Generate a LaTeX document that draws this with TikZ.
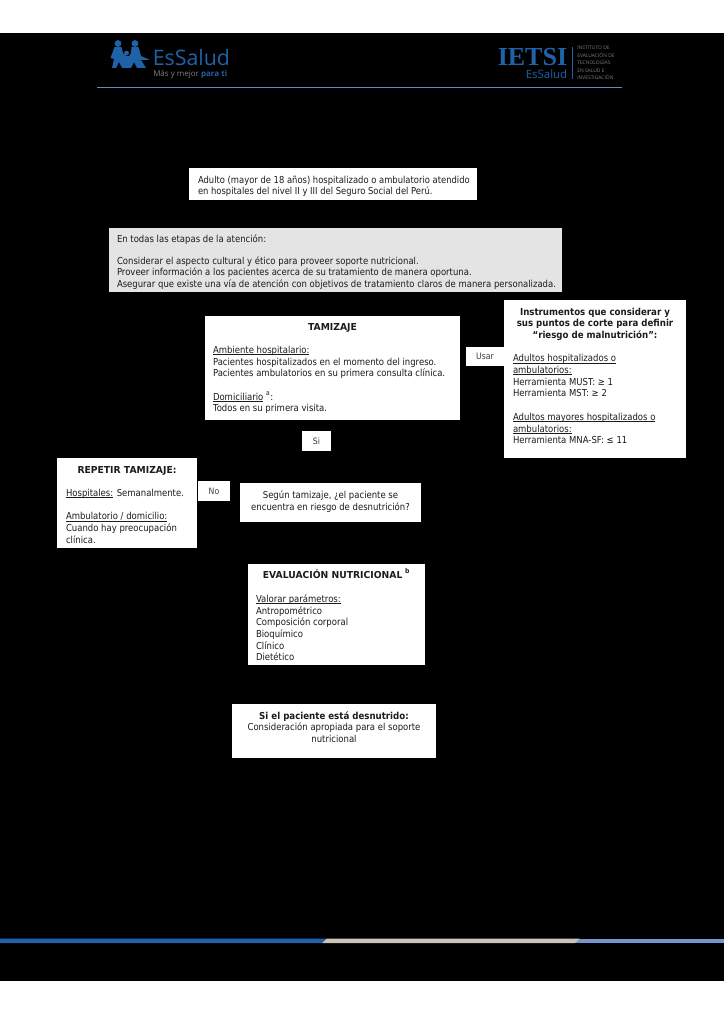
\documentclass[tikz,border=0pt]{standalone}
\usepackage{fontspec}
\setmainfont[FakeStretch=0.885,BoldFeatures={FakeStretch=0.9}]{DejaVu Sans}
\newfontfamily\capsfont[FakeStretch=0.96]{DejaVu Sans}
\newfontfamily\tightfont[FakeStretch=0.875]{DejaVu Sans}
\newfontfamily\logofont{Open Sans}
\newfontfamily\ietsifont{Liberation Serif}
\newlength{\upx}\setlength{\upx}{0.75pt}
\newlength{\ulwidth}
\definecolor{inkc}{HTML}{1C1C1C}
\definecolor{brandblue}{HTML}{1F62A8}
\definecolor{linec}{HTML}{5F8CC4}
\definecolor{beigec}{HTML}{C9C4BA}
\definecolor{lightb}{HTML}{7396CC}
\definecolor{grayfill}{HTML}{E4E4E4}
\setlength{\parindent}{0pt}
\newcommand{\bodyfont}{\fontsize{7.2pt}{8.72pt}\selectfont}
% name, x1, y1, x2, y2, left pad, first baseline offset, fill, content
\newcommand{\flowbox}[9]{%
  \pgfmathsetmacro{\bxw}{#4-#2}\pgfmathsetmacro{\bxh}{#5-#3}%
  \pgfmathsetmacro{\bxt}{\bxw-2*#6}%
  \node[flowstyle, fill=#8, anchor=north west] (#1) at (#2,-#3) {%
    \parbox[c][\bxh\upx][t]{\bxw\upx}{\hspace*{#6\upx}\parbox[t]{\bxt\upx}{\bodyfont\raggedright\rule{0pt}{#7\upx}#9}}};}
\newcommand{\ul}[1]{\settowidth{\ulwidth}{#1}\leavevmode\rlap{\rule[-0.95pt]{\ulwidth}{0.35pt}}#1}
\newcommand{\capsb}[1]{{\capsfont\bfseries #1}}
\newcommand{\ctr}[1]{\makebox[\linewidth][c]{#1}}
\newcommand{\tagbox}[6]{%
  \pgfmathsetmacro{\bxw}{#4-#2}\pgfmathsetmacro{\bxh}{#5-#3}%
  \node[flowstyle, fill=white, text=inkc!85, anchor=north west, minimum width=\bxw\upx, minimum height=\bxh\upx, font=\fontsize{6.6pt}{8pt}\selectfont] (#1) at (#2,-#3) {#6};}
\tikzset{flowstyle/.style={inner sep=0pt, outer sep=0pt, text=inkc, draw=none}}
\begin{document}
\begin{tikzpicture}[x=0.75pt,y=0.75pt]
\useasboundingbox (0,0) rectangle (724,-1024);
\fill[white] (0,0) rectangle (724,-1024);
\fill[black] (0,-33) rectangle (724,-981);
% header logos
\begin{scope}[brandblue]
 \fill (118,-43.5) circle (3.4);
 \fill (135,-43.5) circle (3.4);
 \fill (126.5,-53) circle (2.4);
 \fill (114.5,-47) -- (121.5,-47) -- (123,-53) -- (126,-56) -- (129,-56) -- (131,-53) -- (131.5,-47) -- (138.5,-47) -- (141,-56) -- (150,-60) -- (141,-60) -- (146,-68) -- (137,-68) -- (134,-62) -- (131,-68) -- (122,-68) -- (119,-62) -- (116,-68) -- (112,-68) -- (114,-59) -- (110.5,-58) -- cycle;
\end{scope}
\node[inner sep=0pt, anchor=base west, text=brandblue, font=\logofont\fontsize{16pt}{16pt}\selectfont] (essalud) at (152.5,-66) {EsSalud};
\node[inner sep=0pt, anchor=base west, font=\logofont\fontsize{6pt}{6pt}\selectfont] (lema) at (153,-76) {\textcolor{gray}{Más y mejor} \textcolor{brandblue}{\bfseries para ti}};
\node[inner sep=0pt, anchor=base west, text=brandblue, font=\ietsifont\bfseries\fontsize{19.5pt}{19.5pt}\selectfont] (ietsi) at (497.5,-66) {IETSI};
\node[inner sep=0pt, anchor=base east, text=brandblue, font=\logofont\fontsize{8.6pt}{8.6pt}\selectfont] (essalud2) at (567.5,-79) {EsSalud};
\node[inner sep=0pt, anchor=north west, align=left, text=gray, font=\logofont\fontsize{3.7pt}{5.6pt}\selectfont] (inst) at (577,-46) {INSTITUTO DE\\EVALUACIÓN DE\\TECNOLOGÍAS\\EN SALUD E\\INVESTIGACIÓN};
\draw[brandblue, line width=0.6pt] (572.5,-47) -- (572.5,-79);
\draw[linec, line width=1pt] (97,-87.5) -- (622,-87.5);
% footer band
\fill[lightb] (500,-938.5) rectangle (724,-943);
\fill[brandblue] (0,-938.5) -- (327,-938.5) -- (322,-943) -- (0,-943) -- cycle;
\fill[beigec] (327,-938.5) -- (580,-938.5) -- (575,-943) -- (322,-943) -- cycle;
% boxes
\flowbox{adulto}{189}{168}{477}{200}{9}{15}{white}{{\tightfont\mbox{Adulto (mayor de 18 años) hospitalizado o ambulatorio atendido}\\en hospitales del nivel II y III del Seguro Social del Perú.}}
\flowbox{etapas}{109}{228}{562}{292}{8}{14}{grayfill}{En todas las etapas de la atención:\\[10.5\upx]Considerar el aspecto cultural y ético para proveer soporte nutricional.\\Proveer información a los pacientes acerca de su tratamiento de manera oportuna.\\\mbox{Asegurar que existe una vía de atención con objetivos de tratamiento claros de manera personalizada.}}
\flowbox{tamizaje}{205}{316}{460}{420}{8}{14}{white}{\ctr{\capsb{TAMIZAJE}}\\[12\upx]\ul{Ambiente hospitalario:}\\Pacientes hospitalizados en el momento del ingreso.\\Pacientes ambulatorios en su primera consulta clínica.\\[11.5\upx]\ul{Domiciliario} \textsuperscript{a}:\\Todos en su primera visita.}
\flowbox{instrumentos}{504}{300}{686}{458}{9}{15}{white}{\ctr{\textbf{Instrumentos que considerar y}}\\\ctr{\textbf{sus puntos de corte para definir}}\\\ctr{\textbf{“riesgo de malnutrición”:}}\\[12\upx]\ul{Adultos hospitalizados o}\\\ul{ambulatorios:}\\Herramienta MUST: ≥ 1\\Herramienta MST: ≥ 2\\[12\upx]\ul{Adultos mayores hospitalizados o}\\\ul{ambulatorios:}\\Herramienta MNA-SF: ≤ 11}
\flowbox{repetir}{57}{458}{197}{548}{9}{15}{white}{\ctr{\capsb{REPETIR TAMIZAJE:}}\\[12\upx]\ul{Hospitales:} Semanalmente.\\[11.5\upx]\ul{Ambulatorio / domicilio:}\\Cuando hay preocupación\\clínica.}
\flowbox{segun}{240}{483}{421}{522}{6}{15}{white}{\ctr{Según tamizaje, ¿el paciente se}\\[1\upx]\ctr{encuentra en riesgo de desnutrición?}}
\flowbox{evaluacion}{248}{564}{425}{665}{8}{14}{white}{\ctr{\capsb{EVALUACIÓN NUTRICIONAL} \textsuperscript{\textbf{b}}}\\[13\upx]\ul{Valorar parámetros:}\\Antropométrico\\Composición corporal\\Bioquímico\\Clínico\\Dietético}
\flowbox{desnutrido}{232}{704}{436}{758}{6}{15}{white}{\ctr{\textbf{Si el paciente está desnutrido:}}\\\ctr{Consideración apropiada para el soporte}\\\ctr{nutricional}}
\tagbox{usar}{466}{347}{504}{366}{Usar}
\tagbox{si}{302}{431}{331}{451}{Si}
\tagbox{no}{198}{481}{230}{501}{No}
\end{tikzpicture}
\end{document}
